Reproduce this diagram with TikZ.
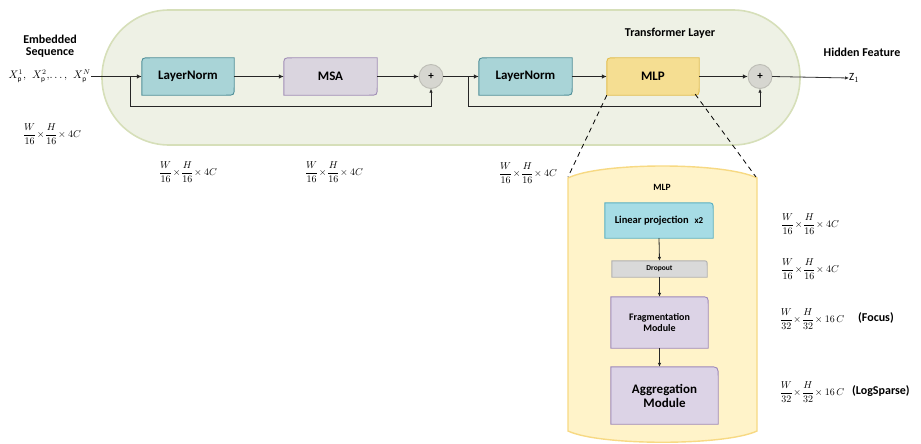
\documentclass[tikz,border=0pt]{standalone}
\usepackage{fontspec}
\setmainfont{Carlito}
\usetikzlibrary{calc,backgrounds,arrows.meta}
\definecolor{tlfill}{HTML}{EEF1E5}
\definecolor{tldraw}{HTML}{D6DFB9}
\definecolor{lnfill}{HTML}{A9D4D7}
\definecolor{lndraw}{HTML}{4F8F98}
\definecolor{msafill}{HTML}{DAD5DF}
\definecolor{msadraw}{HTML}{A08DB6}
\definecolor{mlpfill}{HTML}{F5DE92}
\definecolor{mlpdraw}{HTML}{E3BE4D}
\definecolor{cylfill}{HTML}{FFF3C9}
\definecolor{cyldraw}{HTML}{F7D983}
\definecolor{plusfill}{HTML}{D6D6D0}
\definecolor{plusdraw}{HTML}{BDBDB5}
\definecolor{lpfill}{HTML}{A6DCE5}
\definecolor{lpdraw}{HTML}{58AFC2}
\definecolor{dofill}{HTML}{D9D9D9}
\definecolor{dodraw}{HTML}{B0B0B0}
\definecolor{fafill}{HTML}{DCD3E6}
\definecolor{fadraw}{HTML}{9D88BA}
\newcommand\shpTLBR[3]{\draw[fill=#2,draw=#3,line width=0.9pt] let \p1=(#1.north west),\p2=(#1.south east) in (\x1,\y2) -- (\x1,\y1-8pt) .. controls (\x1,\y1) .. (\x1+8pt,\y1) -- (\x2,\y1) -- (\x2,\y2+8pt) .. controls (\x2,\y2) .. (\x2-8pt,\y2) -- cycle;}
\newcommand\shpTR[4]{\draw[fill=#2,draw=#3,line width=0.9pt] let \p1=(#1.north west),\p2=(#1.south east) in (\x1,\y2) -- (\x1,\y1) -- (\x2-#4,\y1) .. controls (\x2,\y1) .. (\x2,\y1-#4) -- (\x2,\y2) -- cycle;}
\newcommand\dimlab[1]{\fontsize{10}{11}\selectfont$\displaystyle #1$}
\begin{document}
\begin{tikzpicture}[x=1pt,y=-1pt,
  blk/.style={inner sep=0pt, font=\bfseries\fontsize{13}{14}\selectfont, align=center},
  ttl/.style={font=\bfseries\fontsize{12}{13}\selectfont, align=center, inner sep=0pt},
  arr/.style={-{Latex[length=5pt,width=4.5pt]}, line width=1.6pt, draw=black!85},
  skp/.style={-{Latex[length=4pt,width=3.5pt]}, line width=1pt, draw=black!85},
  vt/.style={-{Latex[length=4pt,width=3.5pt]}, line width=0.8pt, draw=black!85},
  plus/.style={circle, minimum size=24pt, inner sep=0pt, font=\bfseries\fontsize{11}{11}\selectfont},
  dsh/.style={line width=0.8pt, dash pattern=on 5pt off 4pt}]
\useasboundingbox (0,0) rectangle (921,444);

% text labels
\node[ttl] (emb) at (50,46) {Embedded\\[-1pt]Sequence};
\node[ttl] (tl) at (670,33) {Transformer Layer};
\node[ttl] (hf) at (862,52) {Hidden Feature};
\node[anchor=east, inner sep=0pt, font=\fontsize{10.5}{11}\selectfont] (xin) at (91,76.5) {$X_{\mathrm p}^{1},\ \,X_{\mathrm p}^{2},\!\ldots,\ \,X_{\mathrm p}^{N}$};
\node[anchor=west, inner sep=0pt, font=\fontsize{11}{12}\selectfont] (z1) at (849,78) {$\mathrm{Z}_{1}$};

% blocks in transformer layer
\node[blk, minimum width=92pt, minimum height=37pt] (ln1) at (188,76.5) {LayerNorm};
\node[blk, minimum width=93pt, minimum height=37pt] (msa) at (330.5,76.5) {MSA};
\node[plus] (p1) at (431,76.5) {+};
\node[blk, minimum width=93pt, minimum height=37pt] (ln2) at (525.5,76.5) {LayerNorm};
\node[blk, minimum width=92pt, minimum height=37pt] (mlp) at (653,76.5) {MLP};
\node[plus] (p2) at (760,76.5) {+};

% MLP detail
\node[inner sep=0pt, font=\bfseries\fontsize{9.5}{10}\selectfont] (mlpt) at (662,187) {MLP};
\node[inner sep=0pt, minimum width=108pt, minimum height=35pt, font=\bfseries\fontsize{10.5}{11}\selectfont] (lp) at (659,220.5) {Linear projection\;\;{\fontsize{9}{9}\selectfont x2}};
\node[inner sep=0pt, minimum width=95pt, minimum height=16pt, font=\bfseries\fontsize{7.5}{8}\selectfont] (do) at (659.5,269) {Dropout};
\node[inner sep=0pt, minimum width=97pt, minimum height=51pt, align=center, font=\bfseries\fontsize{10}{11}\selectfont] (fr) at (659.5,322.5) {Fragmentation\\Module};
\node[inner sep=0pt, minimum width=107pt, minimum height=57pt, align=center, font=\bfseries\fontsize{13}{14}\selectfont] (ag) at (664.5,395.5) {Aggregation\\Module};

% dimension labels
\node[inner sep=0pt] (d1) at (52,134) {\dimlab{\frac{W}{16}\!\times\!\frac{H}{16}\!\times 4C}};
\node[inner sep=0pt] (d2) at (188,172) {\dimlab{\frac{W}{16}\!\times\!\frac{H}{16}\!\times 4C}};
\node[inner sep=0pt] (d3) at (334,172) {\dimlab{\frac{W}{16}\!\times\!\frac{H}{16}\!\times 4C}};
\node[inner sep=0pt] (d4) at (528,173) {\dimlab{\frac{W}{16}\!\times\!\frac{H}{16}\!\times 4C}};
\node[inner sep=0pt] (d5) at (810,224) {\dimlab{\frac{W}{16}\!\times\!\frac{H}{16}\!\times 4C}};
\node[inner sep=0pt] (d6) at (810,269) {\dimlab{\frac{W}{16}\!\times\!\frac{H}{16}\!\times 4C}};
\node[inner sep=0pt] (d7) at (812,319) {\dimlab{\frac{W}{32}\!\times\!\frac{H}{32}\!\times 16\,C}};
\node[ttl, anchor=west] (foc) at (858,318) {(Focus)};
\node[inner sep=0pt] (d8) at (812,392) {\dimlab{\frac{W}{32}\!\times\!\frac{H}{32}\!\times 16\,C}};
\node[ttl, anchor=west] (lsp) at (852,391) {(LogSparse)};

% background shapes
\begin{pgfonlayer}{background}
\draw[fill=tlfill, draw=tldraw, line width=1.6pt, rounded corners=67pt] (102,10) rectangle (800,145);
\draw[fill=cylfill, draw=cyldraw, line width=1.4pt] (568,178) .. controls (600,162) and (725,162) .. (757,178) -- (757,431) .. controls (725,446) and (600,446) .. (568,431) -- cycle;
\shpTLBR{ln1}{lnfill}{lndraw}
\shpTLBR{msa}{msafill}{msadraw}
\shpTLBR{ln2}{lnfill}{lndraw}
\shpTLBR{mlp}{mlpfill}{mlpdraw}
\draw[fill=plusfill, draw=plusdraw, line width=0.9pt] (p1) circle (12pt);
\draw[fill=plusfill, draw=plusdraw, line width=0.9pt] (p2) circle (12pt);
\shpTR{lp}{lpfill}{lpdraw}{7pt}
\shpTR{do}{dofill}{dodraw}{5pt}
\shpTR{fr}{fafill}{fadraw}{8pt}
\shpTR{ag}{fafill}{fadraw}{10pt}
\end{pgfonlayer}

% connectors
\coordinate (s1) at (130,76.5);
\coordinate (s2) at (468,76.5);
\draw[arr] (xin.east) -- (ln1.west);
\draw[skp] (s1) -- ++(0,29.5) -| (p1.south);
\draw[arr] (ln1.east) -- (msa.west);
\draw[arr] (msa.east) -- (p1.west);
\draw[arr] (p1.east) -- (ln2.west);
\draw[skp] (s2) -- ++(0,29.5) -| (p2.south);
\draw[arr] (ln2.east) -- (mlp.west);
\draw[arr] (mlp.east) -- (p2.west);
\draw[-{Latex[length=4pt,width=3.5pt]}, line width=0.8pt, draw=black!80] (p2.east) -- (z1.west);

\coordinate (cl) at (568,177);
\coordinate (cr) at (756,177);
\draw[dsh] (mlp.south west) -- (cl);
\draw[dsh] ($(mlp.south east)+(-4,-1)$) -- (cr);

\draw[vt] (lp.south) -- (do.north);
\draw[vt] (do.south) -- (fr.north);
\draw[vt] (fr.south) -- (fr.south |- ag.north);
\end{tikzpicture}
\end{document}
